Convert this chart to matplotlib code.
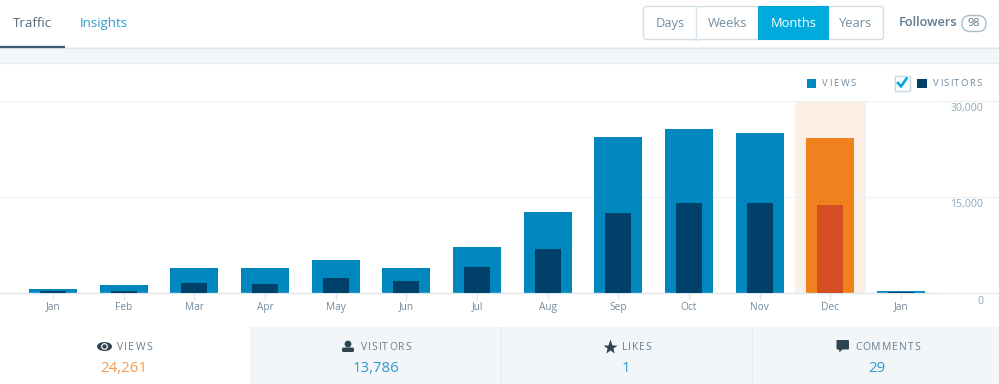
import matplotlib
matplotlib.use("Agg")
import matplotlib.pyplot as plt
from matplotlib.patches import Rectangle, FancyBboxPatch, Circle, Ellipse, Polygon

plt.rcParams['font.family'] = ['Open Sans', 'DejaVu Sans']

months = ['Jan','Feb','Mar','Apr','May','Jun','Jul','Aug','Sep','Oct','Nov','Dec','Jan']
views = [650,1250,3900,3900,5150,3900,7200,12650,24400,25600,25000,24261,250]
visitors = [350,250,1600,1450,2400,1900,4100,6900,12500,14100,14100,13786,100]
y_ticks = [0,15000,30000]
y_labels = ['0','15,000','30,000']
highlight = 11
summary_labels = ['VIEWS','VISITORS','LIKES','COMMENTS']
summary_values = ['24,261','13,786','1','29']
tabs = ['Days','Weeks','Months','Years']

W,H = 999,384
fig = plt.figure(figsize=(W/100,H/100),dpi=100,facecolor='white')

ui = fig.add_axes([0,0,1,1],zorder=0)
ui.set_xlim(0,W); ui.set_ylim(H,0); ui.axis('off')
renderer = fig.canvas.get_renderer()

def spaced(left,right,y,s,**kw):
    """Letter-spaced caps: each character is real text, spread over left..right."""
    probes=[ui.text(0,0,c,**kw) for c in s]
    widths=[p.get_window_extent(renderer).width for p in probes]
    for p in probes: p.remove()
    gap=(right-left-sum(widths))/max(len(s)-1,1)
    x=left
    for c,w in zip(s,widths):
        ui.text(x,y,c,ha='left',va='center',**kw)
        x+=w+gap

GREY='#f3f6f8'; LINE='#e4ebf0'; TXT='#6f8aa0'; DARK='#2e4453'; BLUE='#2e9ccf'; CYAN='#00aadc'

ui.add_patch(Rectangle((0,47),W,16.5,fc=GREY,ec='none'))
ui.plot([0,W],[47.5,47.5],color='#dfe7ec',lw=1)
ui.plot([0,W],[63,63],color=LINE,lw=1)
ui.text(32.5,23.5,'Traffic',ha='center',va='center',fontsize=9.5,color='#54697a')
ui.text(104,23.5,'Insights',ha='center',va='center',fontsize=9.5,color=BLUE)
ui.plot([0,65],[46.5,46.5],color='#3d596d',lw=1.6,solid_capstyle='butt')

ui.add_patch(FancyBboxPatch((643.5,6.5),240,33,boxstyle='round,pad=0,rounding_size=3',fc='white',ec='#d3dfe7',lw=1))
ui.add_patch(Rectangle((758,6),71,34,fc=CYAN,ec='none',zorder=3))
ui.plot([696,696],[7,40],color='#dbe5ec',lw=1)
for name,cx in zip(tabs,[670,728,793.5,856]):
    ui.text(cx,23.5,name,ha='center',va='center',fontsize=9.3,color='white' if name=='Months' else '#728ea3',zorder=4)
ui.text(928,23,'Followers',ha='center',va='center',fontsize=9.2,fontweight='semibold',color='#5f7a8f')
ui.add_patch(FancyBboxPatch((962,15.5),24,16,boxstyle='round,pad=0,rounding_size=8',fc='white',ec='#a8bccb',lw=1))
ui.text(974,23.5,'98',ha='center',va='center',fontsize=8,color='#5f7a8f')

ui.add_patch(Rectangle((807,79),9,9,fc='#0087be',ec='none'))
spaced(822,856,84,'VIEWS',fontsize=6.8,color=TXT)
ui.add_patch(Rectangle((894.5,75.5),15,15,fc='white',ec='#c8d7e1',lw=1))
ui.plot([898,901,906.5],[83,86.5,78.5],color=CYAN,lw=1.9)
ui.add_patch(Rectangle((917,79),9.5,9,fc='#004069',ec='none'))
spaced(933,982,84,'VISITORS',fontsize=6.8,color=TXT)

ui.add_patch(Rectangle((250,327),W-250,57,fc=GREY,ec='none'))
ui.plot([501,501],[327,384],color='#e6edf1',lw=1)
ui.plot([751.5,751.5],[327,384],color='#e6edf1',lw=1)
lab_span=[(117,152),(361,411),(622,651),(855,920)]
val_x=[123.7,375.7,626,876.8]
for t,(a,b),val,vx in zip(summary_labels,lab_span,summary_values,val_x):
    spaced(a,b,347,t,fontsize=7.5,color='#667f92')
    ui.text(vx,368,val,ha='center',va='center',fontsize=10.8,color='#f79a4b' if t=='VIEWS' else BLUE)
ui.add_patch(Ellipse((104.5,346.5),15,9,fc=DARK,ec='none'))
ui.add_patch(Circle((104.5,346.5),3.4,fc='white',ec='none'))
ui.add_patch(Circle((104.5,346.5),2.2,fc=DARK,ec='none'))
ui.add_patch(Circle((348,344),3.4,fc=DARK,ec='none'))
ui.add_patch(FancyBboxPatch((342,347.5),12,4.5,boxstyle='round,pad=0,rounding_size=1.5',fc=DARK,ec='none'))
ui.plot([610],[347],marker='*',ms=11,color=DARK,mec='none')
ui.add_patch(FancyBboxPatch((836.5,340),12.5,9.5,boxstyle='round,pad=0,rounding_size=1',fc=DARK,ec='none'))
ui.add_patch(Polygon([[839,349],[842.5,349],[839.5,352.5]],fc=DARK,ec='none'))

x0,x1,ytop,ybot=0,937,101,293
ax=fig.add_axes([x0/W,1-ybot/H,(x1-x0)/W,(ybot-ytop)/H],zorder=1)
ax.patch.set_alpha(0)
slot=70.67
ax.set_xlim((x0-53)/slot,(x1-53)/slot)
ax.set_ylim(0,30000)
xs=list(range(len(months)))
bw=48/slot; iw=26/slot
ax.bar(highlight,30000,width=1,color='#fcf0e6',zorder=0)
vc=['#f0821e' if i==highlight else '#0087be' for i in xs]
ic=['#d54e21' if i==highlight else '#004069' for i in xs]
ax.bar(xs,views,width=bw,color=vc,zorder=2)
ax.bar(xs,visitors,width=iw,color=ic,zorder=3)
for s in ['top','left','right']: ax.spines[s].set_visible(False)
ax.spines['bottom'].set_color('#dfe7ec'); ax.spines['bottom'].set_linewidth(1)
ax.set_xticks(xs); ax.set_xticklabels(months)
ax.tick_params(axis='x',length=5,color='#e1e8ed',labelsize=7.3,labelcolor='#6f8aa0',pad=1.2,width=1)
ax.set_yticks(y_ticks); ax.set_yticklabels([])
ax.tick_params(axis='y',length=0)
ax.set_axisbelow(True)
ax.grid(axis='y',color='#eef2f5',lw=1,zorder=1)
ax.grid(axis='x',visible=False)
for v,l in zip(y_ticks,y_labels):
    ypx=ybot-(ybot-ytop)*v/30000
    if v>0:
        ui.plot([937,W],[ypx,ypx],color='#eef2f5',lw=1)
    ui.text(983,ypx+7.5 if v else 301.5,l,ha='right',va='center',fontsize=7.6,color='#8fa9bc')
ui.plot([937,W],[293,293],color='#e6edf1',lw=1)
fig.savefig('out.png',dpi=100,facecolor='white')
